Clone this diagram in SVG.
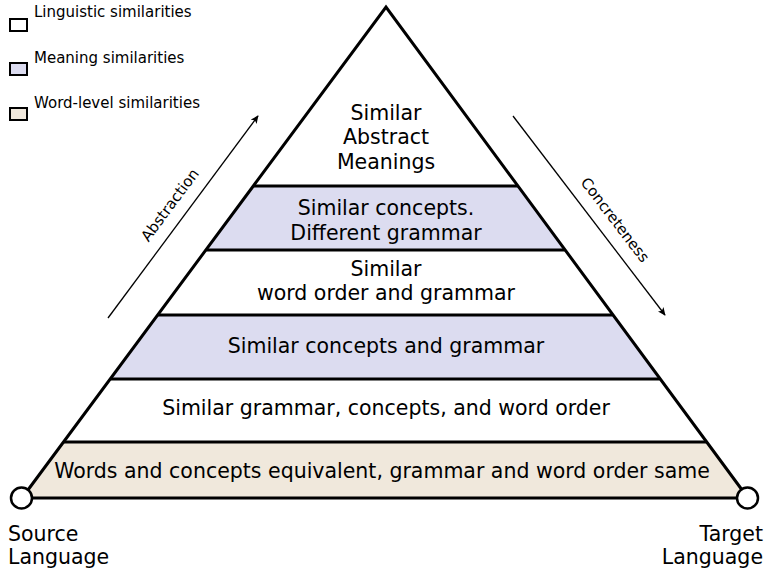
<svg xmlns="http://www.w3.org/2000/svg" width="777" height="568" viewBox="0 0 777 568">
<defs>
<style>
.t{font-family:"DejaVu Sans","Liberation Sans",sans-serif;font-size:20.5px;fill:#000;text-anchor:middle}
.s{font-family:"DejaVu Sans","Liberation Sans",sans-serif;font-size:15px;fill:#000}
.band{stroke:none}
.ling{fill:#ffffff}
.mean{fill:#dcdcf0}
.word{fill:#f0e8dc}
.edge{stroke:#000;stroke-width:3;fill:none;stroke-linejoin:miter}
.arr{stroke:#000;stroke-width:1.3;fill:none}
</style>
<marker id="ah" viewBox="0 0 10 10" refX="9" refY="5" markerWidth="8" markerHeight="8" markerUnits="userSpaceOnUse" orient="auto">
<path d="M0,0.5 L10,5 L0,9.5 L2.5,5 Z" fill="#000"/>
</marker>
</defs>
<rect width="777" height="568" fill="#fff"/>
<g id="legend">
<rect x="10" y="19" width="17" height="12" class="ling" stroke="#000" stroke-width="2"/>
<text x="34" y="17" class="s">Linguistic similarities</text>
<rect x="10" y="63" width="17" height="12" class="mean" stroke="#000" stroke-width="2"/>
<text x="34" y="63" class="s">Meaning similarities</text>
<rect x="10" y="108" width="17" height="12" class="word" stroke="#000" stroke-width="2"/>
<text x="34" y="108" class="s">Word-level similarities</text>
</g>
<g id="layer6">
<polygon class="band ling" points="386,7 253.6,186 517.7,186"/>
<text class="t" x="386" y="120">Similar</text>
<text class="t" x="386" y="144">Abstract</text>
<text class="t" x="386" y="169">Meanings</text>
</g>
<g id="layer5">
<polygon class="band mean" points="253.6,186 517.7,186 564.8,250 206.2,250"/>
<text class="t" x="386" y="215">Similar concepts.</text>
<text class="t" x="386" y="240">Different grammar</text>
</g>
<g id="layer4">
<polygon class="band ling" points="206.2,250 564.8,250 612.6,315 158.1,315"/>
<text class="t" x="386" y="276">Similar</text>
<text class="t" x="386" y="300">word order and grammar</text>
</g>
<g id="layer3">
<polygon class="band mean" points="158.1,315 612.6,315 659.7,379 110.8,379"/>
<text class="t" x="386" y="353">Similar concepts and grammar</text>
</g>
<g id="layer2">
<polygon class="band ling" points="110.8,379 659.7,379 706.8,442 63.4,442"/>
<text class="t" x="386" y="415">Similar grammar, concepts, and word order</text>
</g>
<g id="layer1">
<polygon class="band word" points="63.4,442 706.8,442 748,498 22,498"/>
<text class="t" x="382" y="478">Words and concepts equivalent, grammar and word order same</text>
</g>
<g id="connectors">
<polyline class="edge" points="22,498 386,7 748,498"/>
<line class="edge" x1="22" y1="498" x2="748" y2="498"/>
<line class="edge" x1="253.6" y1="186" x2="517.7" y2="186"/>
<line class="edge" x1="206.2" y1="250" x2="564.8" y2="250"/>
<line class="edge" x1="158.1" y1="315" x2="612.6" y2="315"/>
<line class="edge" x1="110.8" y1="379" x2="659.7" y2="379"/>
<line class="edge" x1="63.4" y1="442" x2="706.8" y2="442"/>
<line class="arr" x1="108" y1="318" x2="258" y2="116" marker-end="url(#ah)"/>
<line class="arr" x1="513" y1="116" x2="665" y2="315" marker-end="url(#ah)"/>
</g>
<g id="source">
<circle cx="21.5" cy="498" r="10.5" fill="#fff" stroke="#000" stroke-width="2.5"/>
<text class="t" x="8" y="541" style="text-anchor:start">Source</text>
<text class="t" x="8" y="564" style="text-anchor:start">Language</text>
</g>
<g id="target">
<circle cx="747.5" cy="498" r="10.5" fill="#fff" stroke="#000" stroke-width="2.5"/>
<text class="t" x="763" y="541" style="text-anchor:end">Target</text>
<text class="t" x="763" y="564" style="text-anchor:end">Language</text>
</g>
<g id="labels">
<text class="s" transform="translate(174,208) rotate(-53.4)" style="text-anchor:middle">Abstraction</text>
<text class="s" transform="translate(611,223) rotate(52.6)" style="text-anchor:middle">Concreteness</text>
</g>
</svg>
